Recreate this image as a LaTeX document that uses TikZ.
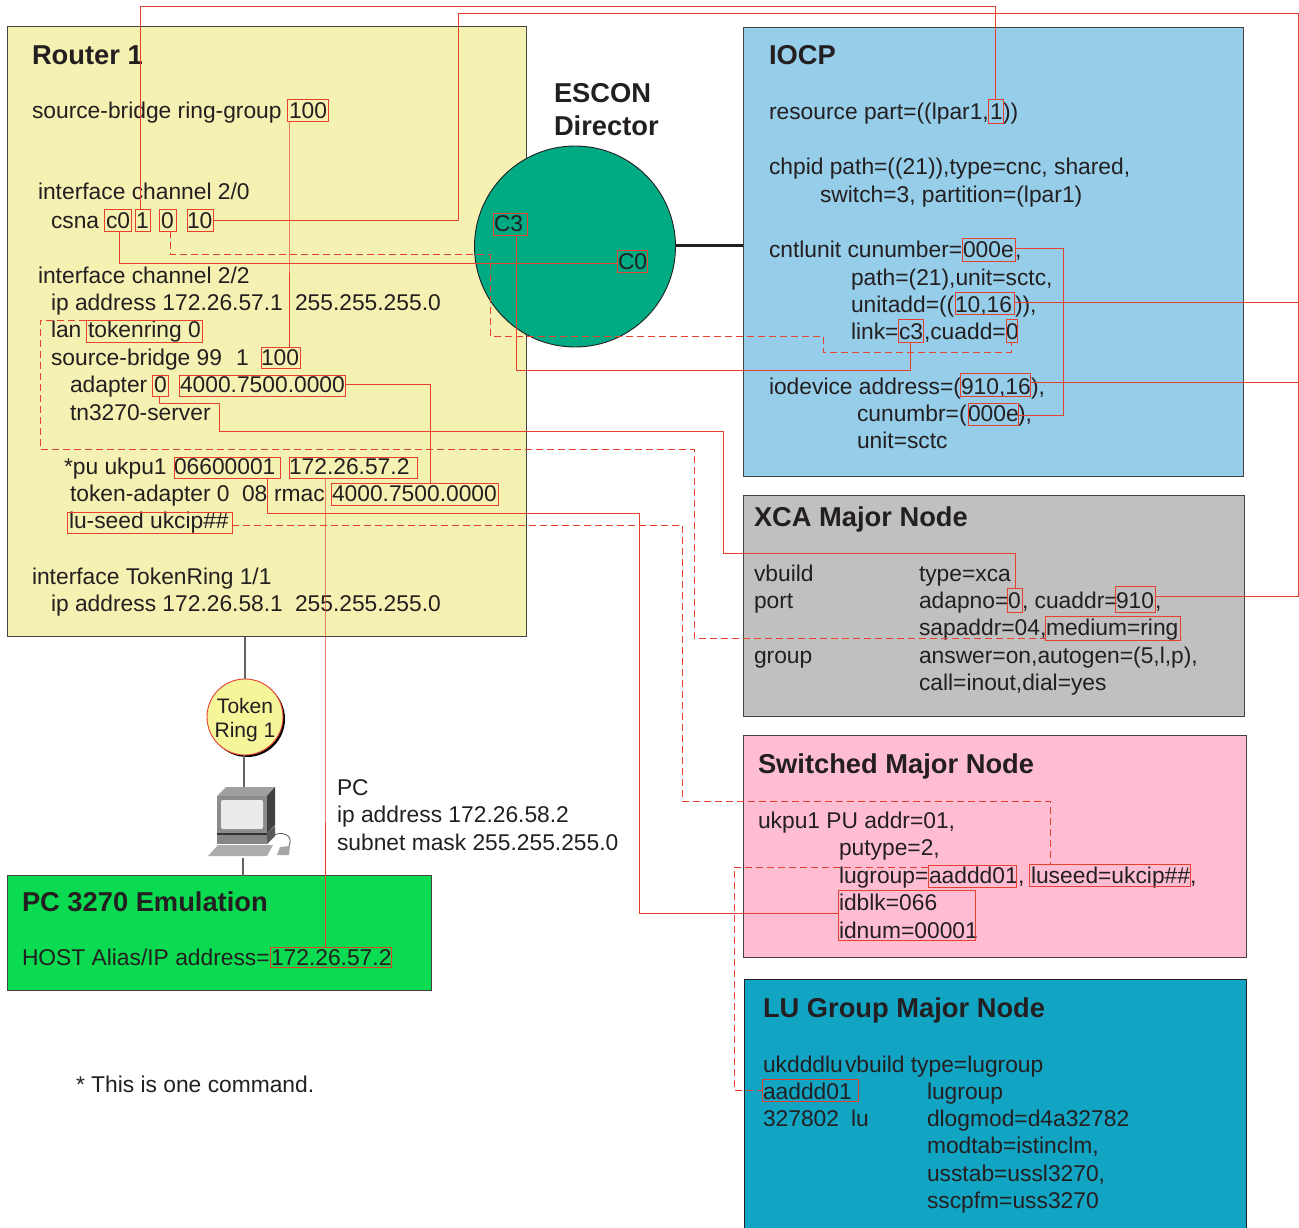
\documentclass[tikz,border=0pt]{standalone}
\usepackage{fontspec}
\setmainfont{Liberation Sans}
\definecolor{ink}{HTML}{231F20}
\definecolor{wirec}{HTML}{E8402F}
\definecolor{rtr}{HTML}{F4F1B3}
\definecolor{iocpc}{HTML}{96CDE9}
\definecolor{xcac}{HTML}{C0C0C0}
\definecolor{swc}{HTML}{FFBDD3}
\definecolor{luc}{HTML}{12A4C3}
\definecolor{pcc}{HTML}{0BDB50}
\definecolor{esc}{HTML}{00AB84}
\definecolor{trc}{HTML}{F5F59A}
\newcommand\hl[5]{\node[hlbox,minimum width={#4-#2},minimum height={#5-#3}] (#1) at ({(#2+#4)/2},{(#3+#5)/2}) {};}
\newcommand\panel[6]{\node[panelbox,fill=#2,minimum width={#5-#3},minimum height={#6-#4}] (#1) at ({(#3+#5)/2-0.7},{(#4+#6)/2-0.7}) {};}
\tikzset{
  x=1pt,y=-1pt,
  panelbox/.style={draw=ink!85,line width=0.9pt,inner sep=0,outer sep=0},
  txt/.style={anchor=base west,inner sep=0,outer sep=0,text=ink,font=\fontsize{22.8}{27}\selectfont},
  ttl/.style={anchor=base west,inner sep=0,outer sep=0,text=ink,font=\fontsize{27.3}{32}\selectfont\bfseries},
  hlbox/.style={draw=wirec,line width=1pt,inner sep=0,outer sep=0},
  wire/.style={draw=wirec,line width=1pt},
  dwire/.style={draw=wirec,line width=1pt,dash pattern=on 7pt off 4pt},
  blk/.style={draw=ink!70,line width=1.1pt},
}
\begin{document}
\begin{tikzpicture}
\useasboundingbox (0,0) rectangle (1299,1228);
% panels
\panel{router}{rtr}{8}{27}{527.6}{637.5}
\panel{iocp}{iocpc}{744}{28}{1244}{477}
\panel{xca}{xcac}{744}{496.5}{1245.5}{717}
\panel{sw}{swc}{744.5}{736.5}{1247}{958}
\path[fill=luc] (744,979.5) rectangle (1246,1228);
\draw[ink,line width=0.9pt] (744,1228) |- (1246,979.5) -- (1246,1228);
\coordinate (lutop) at (744,979.5);
\panel{pc}{pcc}{8}{876.5}{432}{991}
% ESCON
\node[circle,draw=ink,line width=0.9pt,fill=esc,minimum size=201pt,inner sep=0,outer sep=0] (escon) at (575,246.5) {};
\coordinate (lnk) at (676,245);
\draw[ink,line width=3pt] (lnk) -- (lnk -| iocp.west);
% Token ring + PC
\coordinate (trs) at (247,719);
\fill[black] (trs) circle (38);
\node[circle,draw=wirec,line width=0.9pt,fill=trc,minimum size=76pt,inner sep=0,outer sep=0] (tr) at (245,717) {};
\node[font=\fontsize{21}{24}\selectfont,text=ink,align=center,inner sep=0] (trt) at (245,720) {Token\\Ring 1};
\draw[blk] (router.south -| tr.north) -- (tr.north);
\coordinate (pcicon) at (244,787);
\draw[blk] (tr.south -| pcicon) -- (pcicon);
\coordinate (pcfoot) at (243,858);
\draw[blk] (pcfoot) -- (pcfoot |- pc.north);
% PC icon
\fill[gray!75] (217,796) -- (226,787) -- (275,787) -- (267,796) -- cycle;
\fill[gray!90] (217,796) rectangle (267,833);
\fill[black!75] (267,796) -- (275,787) -- (275,825) -- (267,833) -- cycle;
\fill[black!8,rounded corners=2pt] (221,800) rectangle (263,829);
\fill[black!80] (217,833) rectangle (267,835);
\fill[gray!95] (217,835) rectangle (267,844);
\fill[black!65] (267,833) -- (275,826) -- (275,836) -- (267,844) -- cycle;
\fill[gray!65] (208,856) -- (218,845) -- (273,845) -- (267,856) -- cycle;
\draw[gray!70!black,line width=0.8pt] (272,836) .. controls (282,830) and (294,835) .. (289,846);
\fill[gray!70] (277,855) -- (280,847) -- (290,846) -- (289,855) -- cycle;
% router text
\node[ttl] (t1) at (32,65) {Router 1};
\node[txt] (t2) at (32,118.5) {source-bridge ring-group};
\node[txt] (t3) at (289,118.5) {100};
\node[txt] (t4) at (38,200) {interface channel 2/0};
\node[txt] (t5) at (51,228) {csna};
\node[txt] (t6) at (106,228) {c0};
\node[txt] (t7) at (136,228) {1};
\node[txt] (t8) at (161,228) {0};
\node[txt] (t9) at (187,228) {10};
\node[txt] (t10) at (38,283) {interface channel 2/2};
\node[txt] (t11) at (51,310) {ip address 172.26.57.1};
\node[txt] (t12) at (295,310) {255.255.255.0};
\node[txt] (t13) at (51,337.5) {lan};
\node[txt] (t14) at (88,337.5) {tokenring 0};
\node[txt] (t15) at (51,365) {source-bridge 99};
\node[txt] (t16) at (236,365) {1};
\node[txt] (t17) at (261,365) {100};
\node[txt] (t18) at (70,392.5) {adapter};
\node[txt] (t19) at (154,392.5) {0};
\node[txt] (t20) at (180,392.5) {4000.7500.0000};
\node[txt] (t21) at (70,420) {tn3270-server};
\node[txt] (t22) at (64,474.5) {*pu ukpu1};
\node[txt] (t23) at (174,474.5) {06600001};
\node[txt] (t24) at (289,474.5) {172.26.57.2};
\node[txt] (t25) at (70,501.5) {token-adapter 0};
\node[txt] (t26) at (242,501.5) {08};
\node[txt] (t27) at (274,501.5) {rmac};
\node[txt] (t28) at (332,501.5) {4000.7500.0000};
\node[txt] (t29) at (69,528.5) {lu-seed ukcip\#\#};
\node[txt] (t30) at (32,584) {interface TokenRing 1/1};
\node[txt] (t31) at (51,611) {ip address 172.26.58.1};
\node[txt] (t32) at (295,611) {255.255.255.0};
% ESCON text
\node[ttl] (e1) at (554,102.5) {ESCON};
\node[ttl] (e2) at (554,135.5) {Director};
\node[txt] (e3) at (494,231) {C3};
\node[txt] (e4) at (618,269) {C0};
% IOCP text
\node[ttl] (i1) at (769,65) {IOCP};
\node[txt] (i2) at (769,120) {resource part=((lpar1,};
\node[txt] (i3) at (990,120) {1};
\node[txt] (i4) at (1003,120) {))};
\node[txt] (i5) at (769,175) {chpid path=((21)),type=cnc, shared,};
\node[txt] (i6) at (820,203) {switch=3, partition=(lpar1)};
\node[txt] (i7) at (769,257) {cntlunit cunumber=};
\node[txt] (i8) at (963,257) {000e};
\node[txt] (i9) at (1015,257) {,};
\node[txt] (i10) at (851,285) {path=(21),unit=sctc,};
\node[txt] (i11) at (851,312) {unitadd=((};
\node[txt] (i12) at (955,312) {10,16};
\node[txt] (i13) at (1015,312) {)),};
\node[txt] (i14) at (851,339) {link=};
\node[txt] (i15) at (899,339) {c3};
\node[txt] (i16) at (924,339) {,cuadd=};
\node[txt] (i17) at (1006,339) {0};
\node[txt] (i18) at (769,394) {iodevice address=(};
\node[txt] (i19) at (961,394) {910,16};
\node[txt] (i20) at (1031,394) {),};
\node[txt] (i21) at (857,421) {cunumbr=(};
\node[txt] (i22) at (968,421) {000e};
\node[txt] (i23) at (1018,421) {),};
\node[txt] (i24) at (857,448) {unit=sctc};
% XCA text
\node[ttl] (x1) at (754,526) {XCA Major Node};
\node[txt] (x2) at (754,581) {vbuild};
\node[txt] (x3) at (919,581) {type=xca};
\node[txt] (x4) at (754,608) {port};
\node[txt] (x5) at (919,608) {adapno=};
\node[txt] (x6) at (1008,608) {0};
\node[txt] (x7) at (1022,608) {, cuaddr=};
\node[txt] (x8) at (1116,608) {910};
\node[txt] (x9) at (1155,608) {,};
\node[txt] (x10) at (919,635) {sapaddr=04,};
\node[txt] (x11) at (1046,635) {medium=ring};
\node[txt] (x12) at (754,663) {group};
\node[txt] (x13) at (919,663) {answer=on,autogen=(5,l,p),};
\node[txt] (x14) at (919,690) {call=inout,dial=yes};
% Switched text
\node[ttl] (s1) at (758,773) {Switched Major Node};
\node[txt] (s2) at (758,828.5) {ukpu1 PU addr=01,};
\node[txt] (s3) at (839,855.5) {putype=2,};
\node[txt] (s4) at (839,883) {lugroup=};
\node[txt] (s5) at (929,883) {aaddd01};
\node[txt] (s6) at (1018,883) {,};
\node[txt] (s7) at (1031,883) {luseed=ukcip\#\#};
\node[txt] (s8) at (1190,883) {,};
\node[txt] (s9) at (839,910) {idblk=066};
\node[txt] (s10) at (839,938) {idnum=00001};
% LU text
\node[ttl] (l1) at (763,1017) {LU Group Major Node};
\node[txt] (l2) at (763,1072) {ukdddlu};
\node[txt] (l3) at (845,1072) {vbuild type=lugroup};
\node[txt] (l4) at (763,1099) {aaddd01};
\node[txt] (l5) at (927,1099) {lugroup};
\node[txt] (l6) at (763,1126) {327802};
\node[txt] (l6b) at (851,1126) {lu};
\node[txt] (l7) at (927,1126) {dlogmod=d4a32782};
\node[txt] (l8) at (927,1153) {modtab=istinclm,};
\node[txt] (l9) at (927,1181) {usstab=ussl3270,};
\node[txt] (l10) at (927,1208) {sscpfm=uss3270};
% PC text
\node[txt] (p1) at (337,795) {PC};
\node[txt] (p2) at (337,822.5) {ip address 172.26.58.2};
\node[txt] (p3) at (337,850) {subnet mask 255.255.255.0};
\node[ttl] (p4) at (22,911) {PC 3270 Emulation};
\node[txt] (p5) at (22,965) {HOST Alias/IP address=};
\node[txt] (p6) at (271,965) {172.26.57.2};
\node[txt] (n1) at (76,1092) {* This is one command.};
% highlight boxes
\hl{hA}{287}{100}{328}{122}
\hl{hc0}{104}{209}{131}{231}
\hl{hone}{135}{209}{150}{231}
\hl{hzero}{159}{209}{176}{231}
\hl{hten}{187}{209}{213}{231}
\hl{htok}{86}{320}{202}{342}
\hl{hB}{261}{347}{300}{368}
\hl{hadz}{152}{375}{168}{396}
\hl{hmaca}{179}{375}{345}{396}
\hl{hpu}{174}{457}{280}{478}
\hl{hip}{289}{457}{417}{478}
\hl{hmacb}{331}{483}{498}{505}
\hl{hseed}{67}{512}{232}{533}
\hl{hC3}{493}{213}{527}{235}
\hl{hC0}{617}{250}{647}{272}
\hl{ipart}{988}{100}{1003}{124}
\hl{icua}{962}{238}{1015}{261}
\hl{iua}{955}{292}{1014}{314}
\hl{ic3}{898}{319}{923}{342}
\hl{icu0}{1006}{319}{1017}{342}
\hl{iaddr}{960}{373}{1030}{396}
\hl{icub}{968}{403}{1018}{425}
\hl{xad}{1007}{588}{1022}{612}
\hl{xcu}{1115}{586}{1155}{612}
\hl{xmed}{1045}{616}{1180}{640}
\hl{slg}{928}{865}{1016}{887}
\hl{sseed}{1029}{864}{1190}{886}
\hl{sid}{838}{890}{975}{940}
\hl{lgrp}{762}{1079}{858}{1101}
\hl{pcip}{270}{947}{391}{967}
% wire bend points
\coordinate (a1) at (140,7);
\coordinate (a2a) at (458.5,14);
\coordinate (a2b) at (1298,14);
\coordinate (a2c) at (1298,596);
\coordinate (a3) at (289,200);
\coordinate (a4) at (119,263);
\coordinate (a5a) at (170,254);
\coordinate (a5b) at (490,336);
\coordinate (a5c) at (823,352);
\coordinate (a5d) at (1011,352);
\coordinate (a7a) at (1063,248);
\coordinate (a7b) at (1063,415);
\coordinate (a9) at (516,370);
\coordinate (a10) at (430,384);
\coordinate (a11a) at (159,403);
\coordinate (a11b) at (219,431);
\coordinate (a11c) at (723,553);
\coordinate (a11d) at (1015,553);
\coordinate (a12a) at (40,449);
\coordinate (a12b) at (694,638);
\coordinate (a13) at (325,700);
\coordinate (a14a) at (267,513);
\coordinate (a14b) at (639,913);
\coordinate (a15a) at (682,525);
\coordinate (a15b) at (1050,801);
\coordinate (a16a) at (734,867);
\coordinate (a16b) at (734,1090);
\coordinate (a8) at (1298,302);
\coordinate (a9b) at (1298,382);
% wires
\draw[wire] (hone.north -| a1) -- (a1) -| (ipart.north);
\draw[wire] (hten.east) -| (a2a) -- (a2b) -- (a2c) -- (a2c -| xcu.east);
\draw[wire] (hA.south -| a3) -- (a3) -- (hB.north -| a3);
\draw[wire] (hc0.south -| a4) -- (a4) -- (a4 -| hC0.west);
\draw[dwire] (hzero.south -| a5a) -- (a5a) -| (a5b) -| (a5c) -- (a5d) -- (icu0.south -| a5d);
\draw[wire] (hC3.south -| a9) -- (a9) -| (ic3.south);
\draw[wire] (icua.east |- a7a) -- (a7a) -- (a7b) -- (icub.east |- a7b);
\draw[wire] (iua.east |- a8) -- (a8);
\draw[wire] (iaddr.east |- a9b) -- (a9b);
\draw[wire] (hmaca.east |- a10) -- (a10) -- (a10 |- hmacb.north);
\draw[wire] (hadz.south -| a11a) -- (a11a) -| (a11b) -| (a11c) |- (a11d) -- (a11d |- xad.north);
\draw[dwire] (htok.north west) -- (htok.north west -| a12a) -- (a12a) -| (a12b) -- (a12b -| xmed.west);
\draw[wire] (hip.south -| a13) -- (a13) -- (pcip.north -| a13);
\draw[wire] (hpu.south -| a14a) -- (a14a) -| (a14b) -- (a14b -| sid.west);
\draw[dwire] (hseed.east |- a15a) -- (a15a) |- (a15b) -- (sseed.north -| a15b);
\draw[dwire] (slg.west |- a16a) -- (a16a) -- (a16b) -- (lgrp.west |- a16b);
\end{tikzpicture}
\end{document}
